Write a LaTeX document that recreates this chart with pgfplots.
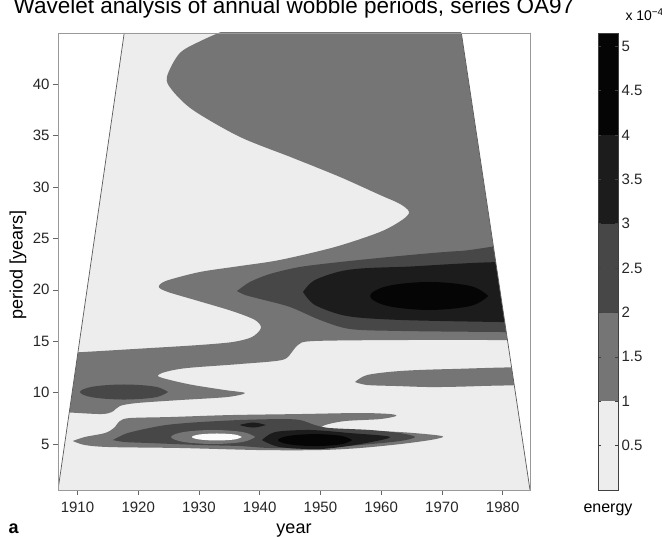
\documentclass[border=0pt]{standalone}
\usepackage{fontspec}
\setmainfont{Liberation Sans}
\usepackage{pgfplots}
\pgfplotsset{compat=1.18}

% energy levels (x 10^-4): <1, 1-2, 2-3, 3-4, >4
\definecolor{lev0}{gray}{0.93}
\definecolor{lev1}{gray}{0.46}
\definecolor{lev2}{gray}{0.28}
\definecolor{lev3}{gray}{0.11}
\definecolor{lev4}{gray}{0.02}
\definecolor{levw}{gray}{0.985}

\begin{document}
\begin{tikzpicture}
\begin{axis}[
  at={(58bp,47bp)}, anchor=south west,
  scale only axis, width=472bp, height=457bp,
  xmin=1906.8, xmax=1984.5, ymin=0.55, ymax=44.95,
  xtick={1910,1920,...,1980}, ytick={5,10,...,40},
  tick pos=left, tick align=outside, major tick length=5bp,
  axis on top,
  axis line style={draw=black!40, line width=0.6bp},
  every tick/.style={draw=black!60, line width=0.6bp},
  tick label style={font=\fontsize{15bp}{18bp}\selectfont, text=black!85},
  xticklabel style={yshift=-4bp},
  /pgf/number format/1000 sep={},
  /pgf/number format/assume math mode=true,
]
% area of the cone of influence
\addplot[fill=lev0, draw=none] coordinates {(1917.7,44.95) (1973.2,44.95) (1984.5,0.55) (1906.8,0.55)} -- cycle;

% 1-2 level: upper region, 20-year band and the 10-year region on the left
\addplot[fill=lev1, draw=none, smooth, tension=0.5] coordinates {
(1934.45,45.25) (1987,45.25) (1987,15.12) (1982.88,15.12) (1963.11,15.12) (1948.78,15.02)
(1946.31,14.64) (1945.32,13.96) (1943.67,13.18) (1936.76,12.79) (1928.02,12.40) (1924.40,12.01)
(1923.25,11.62) (1925.22,11.24) (1929.01,10.75) (1934.28,10.26) (1937.58,9.97) (1934.61,9.58)
(1926.87,9.29) (1919.79,9.00) (1916.98,8.71) (1915.67,8.13) (1913.69,7.93) (1907.10,8.13)
(1903.81,8.13) (1903.81,13.86) (1907.92,13.86) (1921.93,14.34) (1930.16,14.64) (1935.60,14.93)
(1938.73,15.41) (1940.21,16.29) (1939.22,17.07) (1935.44,17.94) (1929.34,19.01) (1924.89,19.79)
(1923.41,20.27) (1924.56,20.86) (1930.16,21.73) (1936.76,22.31) (1943.34,22.90) (1952.40,24.16)
(1959.82,25.62) (1963.44,26.78) (1964.60,27.56) (1963.11,28.34) (1959.82,29.21) (1953.23,30.96)
(1945.48,32.81) (1936.76,34.85) (1929.01,37.47) (1925.55,39.42) (1924.73,40.68) (1926.87,43.01)
(1930.66,44.28) (1934.45,45.25)} -- cycle;

% 1-2 level: 12-year finger on the right
\addplot[fill=lev1, draw=none, smooth, tension=0.5] coordinates {
(1955.70,11.04) (1957.68,11.72) (1963.11,12.11) (1971.35,12.30) (1986,12.40) (1986,10.94)
(1976.29,10.65) (1968.55,10.55) (1962.62,10.65) (1957.68,10.75) (1955.70,11.04)} -- cycle;

% 2-3 level: 10-year patch around 1918
\addplot[fill=lev2, draw=none, smooth, tension=0.6] coordinates {
(1924.91,10.07) (1922.79,10.59) (1917.66,10.80) (1912.53,10.59) (1910.41,10.07)
(1912.53,9.55) (1917.66,9.34) (1922.79,9.55) (1924.91,10.07)} -- cycle;

% 20-year band: 2-3, 3-4 and >4 levels
\addplot[fill=lev2, draw=none, smooth, tension=0.5] coordinates {
(1936.26,19.88) (1938.40,20.76) (1941.70,21.54) (1946.64,22.22) (1953.23,22.70) (1963.11,23.29)
(1972.99,23.77) (1987,24.06) (1987,15.90) (1979.59,15.90) (1963.11,16.00) (1954.87,16.19)
(1949.93,17.07) (1944.99,18.33) (1940.05,19.11) (1937.58,19.50) (1936.26,19.88)} -- cycle;
\addplot[fill=lev3, draw=none, smooth, tension=0.5] coordinates {
(1947.13,19.79) (1949.11,20.95) (1954.38,21.92) (1963.11,22.22) (1987,22.41) (1987,16.87)
(1979.59,16.87) (1963.11,17.07) (1954.38,17.45) (1949.11,18.52) (1947.13,19.79)} -- cycle;
\addplot[fill=lev4, draw=none, smooth, tension=0.6] coordinates {
(1977.61,19.40) (1974.76,20.36) (1967.89,20.76) (1961.02,20.36) (1958.17,19.40)
(1961.02,18.44) (1967.89,18.04) (1974.76,18.44) (1977.61,19.40)} -- cycle;

% 4-8 year complex
\addplot[fill=lev1, draw=none, smooth, tension=0.5] coordinates {
(1909.24,5.31) (1911.22,5.70) (1914.51,6.08) (1916.00,6.57) (1916.98,7.25) (1918.63,7.54)
(1925.22,7.64) (1935.11,7.83) (1946.64,7.93) (1956.52,8.03) (1961.46,7.93) (1962.45,7.74)
(1959.82,7.44) (1954.05,7.25) (1950.76,6.86) (1950.26,6.47) (1954.87,6.38) (1963.11,6.18)
(1968.88,5.89) (1970.19,5.70) (1968.05,5.40) (1963.11,5.01) (1956.52,4.63) (1949.93,4.43)
(1940.05,4.43) (1926.87,4.63) (1915.34,4.72) (1911.22,4.92) (1909.24,5.31)} -- cycle;
\addplot[fill=lev2, draw=none, smooth, tension=0.5] coordinates {
(1915.83,5.40) (1917.81,5.99) (1920.28,6.38) (1923.57,6.77) (1926.05,6.96) (1930.16,7.15)
(1936.76,7.35) (1943.34,7.44) (1946.64,7.35) (1949.11,6.86) (1951.58,6.57) (1958.17,6.38)
(1963.11,6.08) (1965.58,5.70) (1963.11,5.31) (1956.52,4.92) (1949.93,4.63) (1941.70,4.63)
(1936.76,4.82) (1930.16,4.92) (1921.93,5.11) (1917.81,5.21) (1915.83,5.40)} -- cycle;
\addplot[fill=lev1, draw=none, smooth, tension=0.6] coordinates {
(1939.26,5.70) (1937.23,6.18) (1932.34,6.38) (1927.45,6.18) (1925.42,5.70)
(1927.45,5.22) (1932.34,5.02) (1937.23,5.22) (1939.26,5.70)} -- cycle;
\addplot[fill=levw, draw=none, smooth, tension=0.6] coordinates {
(1937.08,5.70) (1935.87,5.94) (1932.96,6.04) (1930.05,5.94) (1928.84,5.70)
(1930.05,5.46) (1932.96,5.36) (1935.87,5.46) (1937.08,5.70)} -- cycle;
\addplot[fill=lev3, draw=none, smooth, tension=0.5] coordinates {
(1940.38,5.40) (1942.52,6.18) (1948.29,6.38) (1954.87,6.08) (1961.46,5.70)
(1956.52,5.01) (1949.93,4.53) (1943.34,4.72) (1940.38,5.40)} -- cycle;
\addplot[fill=lev4, draw=none, smooth, tension=0.6] coordinates {
(1955.21,5.40) (1953.42,5.81) (1949.11,5.98) (1944.80,5.81) (1943.01,5.40)
(1944.80,4.99) (1949.11,4.82) (1953.42,4.99) (1955.21,5.40)} -- cycle;
\addplot[fill=lev3, draw=none, smooth, tension=0.6] coordinates {
(1941.05,6.86) (1939.91,7.03) (1938.91,7.10) (1937.91,7.03) (1936.77,6.86)
(1937.91,6.69) (1938.91,6.62) (1939.91,6.69) (1941.05,6.86)} -- cycle;

% outside the cone of influence
\addplot[fill=white, draw=none] coordinates {(1900,50) (1918.94,50) (1905.44,-5) (1900,-5)} -- cycle;
\addplot[fill=white, draw=none] coordinates {(1971.91,50) (1990,50) (1990,-5) (1985.91,-5)} -- cycle;
\addplot[draw=black!65, line width=0.7bp] coordinates {(1917.7,44.95) (1906.8,0.55)};
\addplot[draw=black!65, line width=0.7bp] coordinates {(1973.2,44.95) (1984.5,0.55)};
\end{axis}

% colour bar
\begin{axis}[
  at={(598bp,47bp)}, anchor=south west,
  scale only axis, width=20bp, height=457bp,
  xmin=0, xmax=1, ymin=0, ymax=5.15,
  xtick=\empty, ytick={0.5,1,...,5},
  yticklabel pos=right, tick align=inside, major tick length=3bp,
  axis on top,
  axis line style={draw=black!75, line width=0.6bp},
  every tick/.style={draw=black!75, line width=0.6bp},
  tick label style={font=\fontsize{15bp}{18bp}\selectfont, text=black!85},
  /pgf/number format/assume math mode=true,
]
\addplot[fill=lev0, draw=none] coordinates {(0,0) (1,0) (1,1) (0,1)} -- cycle;
\addplot[fill=lev1, draw=none] coordinates {(0,1) (1,1) (1,2) (0,2)} -- cycle;
\addplot[fill=lev2, draw=none] coordinates {(0,2) (1,2) (1,3) (0,3)} -- cycle;
\addplot[fill=lev3, draw=none] coordinates {(0,3) (1,3) (1,4) (0,4)} -- cycle;
\addplot[fill=lev4, draw=none] coordinates {(0,4) (1,4) (1,5.15) (0,5.15)} -- cycle;
\end{axis}

\node[anchor=base, font=\fontsize{22.5bp}{27bp}\selectfont] at (294bp,523bp)
  {Wavelet analysis of annual wobble periods, series OA97};
\node[anchor=base west, font=\fontsize{14bp}{16bp}\selectfont] at (622bp,516bp)
  {x 10\textsuperscript{−4}};
\node[anchor=base, font=\fontsize{18bp}{20bp}\selectfont] at (294bp,4bp) {year};
\node[anchor=base, font=\fontsize{16bp}{18bp}\selectfont] at (608bp,25bp) {energy};
\node[anchor=base west, font=\fontsize{18bp}{20bp}\selectfont\bfseries] at (5bp,4bp) {a};
\node[rotate=90, font=\fontsize{18bp}{20bp}\selectfont] at (18bp,272bp) {period [years]};

\pgfresetboundingbox
\useasboundingbox (0,0) rectangle (662bp,537bp);
\end{tikzpicture}
\end{document}
